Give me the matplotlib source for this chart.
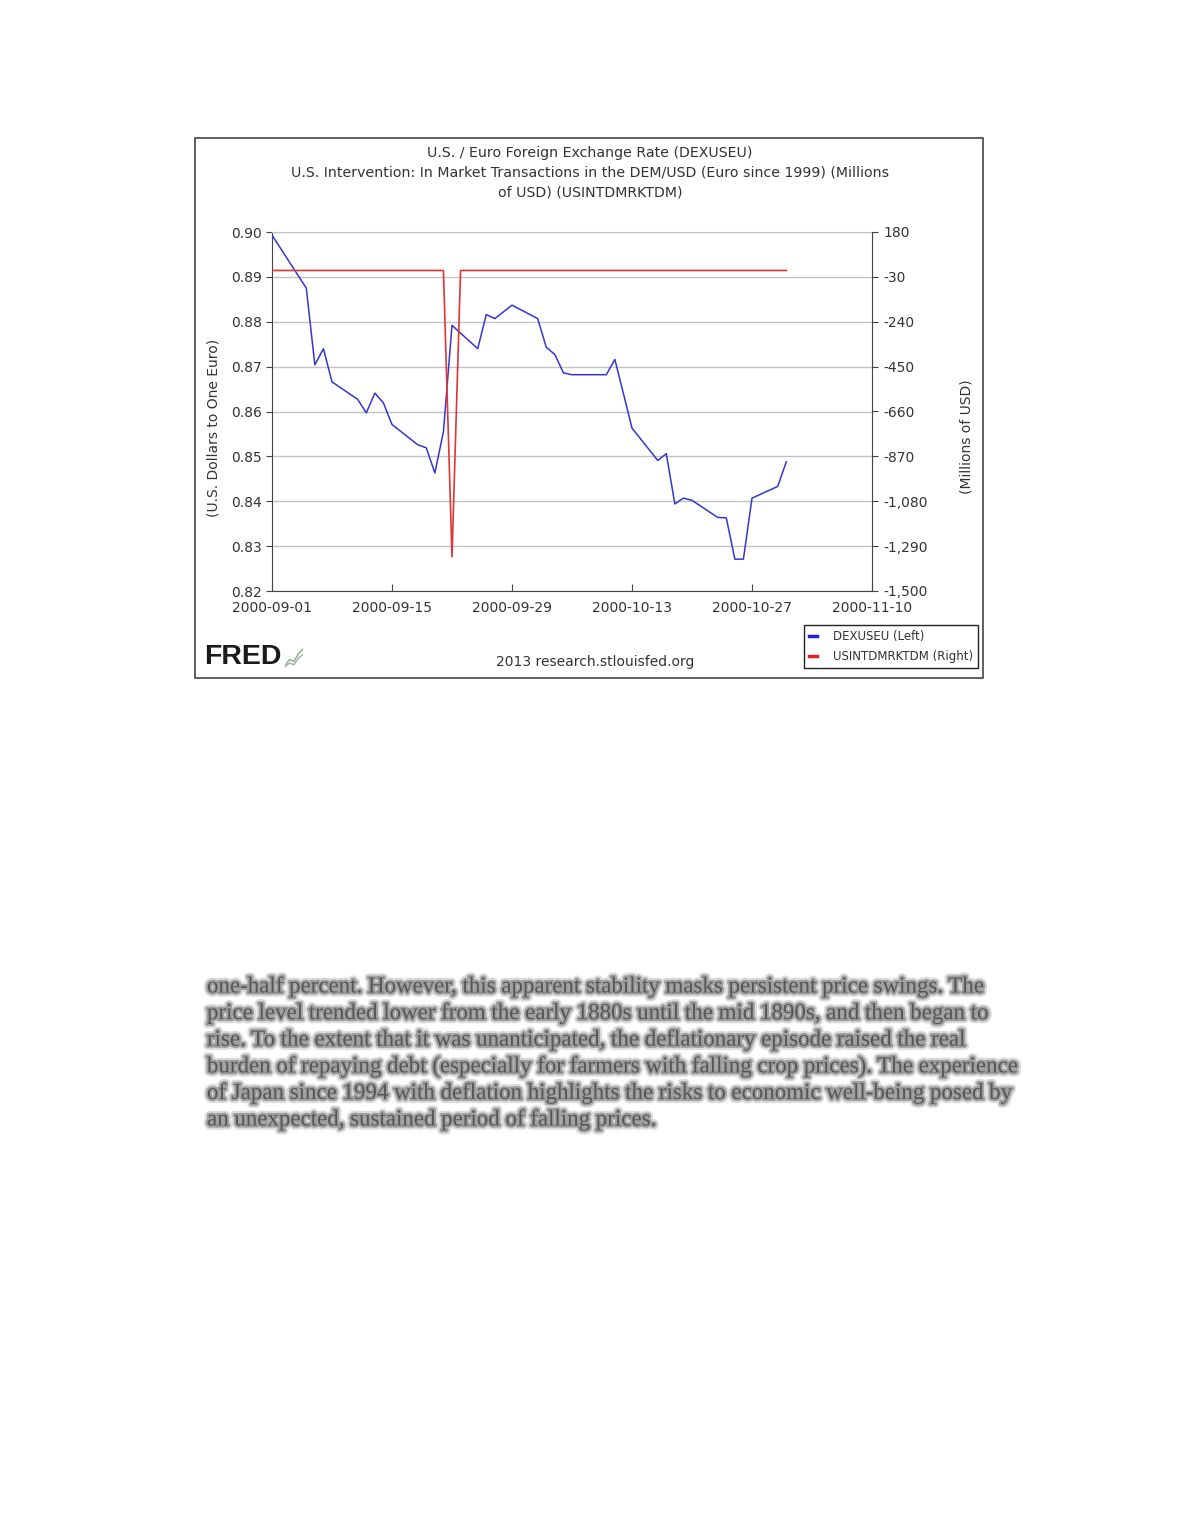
"""
FRED chart: U.S. / Euro exchange rate and U.S. intervention, Sep-Oct 2000
"""

import numpy as np
import pandas as pd
import matplotlib
matplotlib.use('Agg')
import matplotlib.pyplot as plt
import matplotlib.dates as mdates
import matplotlib.ticker as mticker
import matplotlib.patheffects as pe
from matplotlib.patches import Rectangle
from matplotlib.lines import Line2D

# DEXUSEU (left axis), business days
blue_dates = ['2000-09-01', '2000-09-05', '2000-09-06', '2000-09-07', '2000-09-08',
              '2000-09-11', '2000-09-12', '2000-09-13', '2000-09-14', '2000-09-15',
              '2000-09-18', '2000-09-19', '2000-09-20', '2000-09-21', '2000-09-22',
              '2000-09-25', '2000-09-26', '2000-09-27', '2000-09-28', '2000-09-29',
              '2000-10-02', '2000-10-03', '2000-10-04', '2000-10-05', '2000-10-06',
              '2000-10-10', '2000-10-11', '2000-10-12', '2000-10-13',
              '2000-10-16', '2000-10-17', '2000-10-18', '2000-10-19', '2000-10-20',
              '2000-10-23', '2000-10-24', '2000-10-25', '2000-10-26', '2000-10-27',
              '2000-10-30', '2000-10-31']
blue_values = [0.8993, 0.8875, 0.8704, 0.8740, 0.8666,
               0.8627, 0.8597, 0.8641, 0.8619, 0.8571,
               0.8526, 0.8519, 0.8463, 0.8555, 0.8792,
               0.8740, 0.8816, 0.8807, 0.8822, 0.8837,
               0.8807, 0.8743, 0.8727, 0.8686, 0.8682,
               0.8682, 0.8716, 0.8640, 0.8563,
               0.8491, 0.8506, 0.8394, 0.8407, 0.8402,
               0.8364, 0.8363, 0.8271, 0.8271, 0.8407,
               0.8433, 0.8488]

# USINTDMRKTDM (right axis), daily; only one intervention day
red_dates = pd.date_range('2000-09-01', '2000-10-31', freq='D')
intervention_day = '2000-09-22'
intervention_amount = -1339.6
red_values = [intervention_amount if d == pd.Timestamp(intervention_day) else 0.0
              for d in red_dates]

x_ticks = ['2000-09-01', '2000-09-15', '2000-09-29', '2000-10-13', '2000-10-27', '2000-11-10']
left_ticks = [0.82, 0.83, 0.84, 0.85, 0.86, 0.87, 0.88, 0.89, 0.90]
right_ticks = [-1500, -1290, -1080, -870, -660, -450, -240, -30, 180]

title_lines = ['U.S. / Euro Foreign Exchange Rate (DEXUSEU)',
               'U.S. Intervention: In Market Transactions in the DEM/USD (Euro since 1999) (Millions',
               'of USD) (USINTDMRKTDM)']

paragraph = ['one-half percent. However, this apparent stability masks persistent price swings. The',
             'price level trended lower from the early 1880s until the mid 1890s, and then began to',
             'rise. To the extent that it was unanticipated, the deflationary episode raised the real',
             'burden of repaying debt (especially for farmers with falling crop prices). The experience',
             'of Japan since 1994 with deflation highlights the risks to economic well-being posed by',
             'an unexpected, sustained period of falling prices.']

W, H = 1180., 1527.
TXT = '#333333'

def fx(px):
    return px / W

def fy(py):
    return 1 - py / H

fig = plt.figure(figsize=(W / 100, H / 100), dpi=100)

# chart frame
fig.patches.append(Rectangle((fx(195), fy(678)), 788 / W, 540 / H, transform=fig.transFigure,
                             fill=False, edgecolor='#444444', lw=1.2))

# titles
for i, line in enumerate(title_lines):
    fig.text(fx(590), fy(153 + 20 * i), line, ha='center', va='center', fontsize=10.2, color=TXT)

ax1 = fig.add_axes([fx(272), fy(591), 600 / W, 359 / H])
ax1.plot(pd.to_datetime(blue_dates), blue_values, color='#3535d2', lw=1.1, zorder=3)
ax1.set_ylim(0.82, 0.90)
ax1.set_yticks(left_ticks)
ax1.yaxis.set_major_formatter(mticker.FormatStrFormatter('%.2f'))
ax1.yaxis.grid(True, color='#c2c2c2', lw=1)
ax1.set_axisbelow(True)
ax1.set_xlim(pd.Timestamp('2000-09-01'), pd.Timestamp('2000-11-10'))
ax1.set_xticks(pd.to_datetime(x_ticks))
ax1.xaxis.set_major_formatter(mdates.DateFormatter('%Y-%m-%d'))
ax1.tick_params(axis='x', direction='in', length=5, pad=7, labelsize=10, labelcolor=TXT, color='#444444')
ax1.tick_params(axis='y', direction='out', length=4, pad=3, labelsize=10, labelcolor=TXT, color='#444444')
ax1.spines['right'].set_visible(False)
ax1.spines['top'].set_color('#c2c2c2')
for s in ['left', 'bottom']:
    ax1.spines[s].set_color('#444444')

ax2 = ax1.twinx()
ax2.plot(red_dates, red_values, color='#e03535', lw=1.2)
ax2.set_ylim(-1500, 180)
ax2.set_yticks(right_ticks)
ax2.yaxis.set_major_formatter(mticker.FuncFormatter(lambda v, p: f'{int(v):,}'))
ax2.tick_params(axis='y', direction='out', length=4, pad=4, labelsize=10, labelcolor=TXT, color='#444444')
for s in ['left', 'top', 'bottom']:
    ax2.spines[s].set_visible(False)
ax2.spines['right'].set_color('#444444')

# axis labels
fig.text(fx(213), fy(428), '(U.S. Dollars to One Euro)', rotation=90, ha='center', va='center',
         fontsize=10, color=TXT)
fig.text(fx(966), fy(437), '(Millions of USD)', rotation=90, ha='center', va='center',
         fontsize=10, color=TXT)

# legend
handles = [Line2D([], [], color='#2222dd', lw=2.5), Line2D([], [], color='#dd2222', lw=2.5)]
leg = fig.legend(handles, ['DEXUSEU (Left)', 'USINTDMRKTDM (Right)'], loc='upper right',
                 bbox_to_anchor=(fx(978), fy(625)), fontsize=8.5, handlelength=0.7,
                 handletextpad=1.3, labelspacing=0.55, borderpad=0.45, fancybox=False,
                 framealpha=1, edgecolor='#222222', borderaxespad=0)
leg.get_frame().set_linewidth(1.0)
for t in leg.get_texts():
    t.set_color(TXT)

# footer
fig.text(fx(204), fy(657), 'FRED', ha='left', va='center', fontsize=20.5, fontweight='bold',
         family='Liberation Sans', color='#1a1a1a')
icon = fig.add_axes([fx(285), fy(668), 18 / W, 20 / H])
icon.set_facecolor('#f0f0f0')
icon.plot([0, 1, 2, 3, 4], [0.5, 1.5, 1.2, 2.6, 3.4], color='#7fb07f', lw=1)
icon.plot([0, 1, 2, 3, 4], [0.2, 0.9, 0.6, 1.8, 2.4], color='#a8a8a8', lw=1)
icon.set_xlim(0, 4)
icon.set_ylim(0, 3.6)
icon.axis('off')
fig.text(fx(595), fy(662), '2013 research.stlouisfed.org', ha='center', va='center',
         fontsize=10, color=TXT)

# blurred body text below the chart
blur = [pe.Stroke(linewidth=6, foreground='#dcdcdc'),
        pe.Stroke(linewidth=3, foreground='#a0a0a0'),
        pe.Normal()]
for i, line in enumerate(paragraph):
    fig.text(fx(207), fy(987 + 26.6 * i), line, ha='left', va='center', fontsize=16.5,
             family='Liberation Serif', color='#555555', path_effects=blur)

fig.savefig('out.png', dpi=100, facecolor='white')
